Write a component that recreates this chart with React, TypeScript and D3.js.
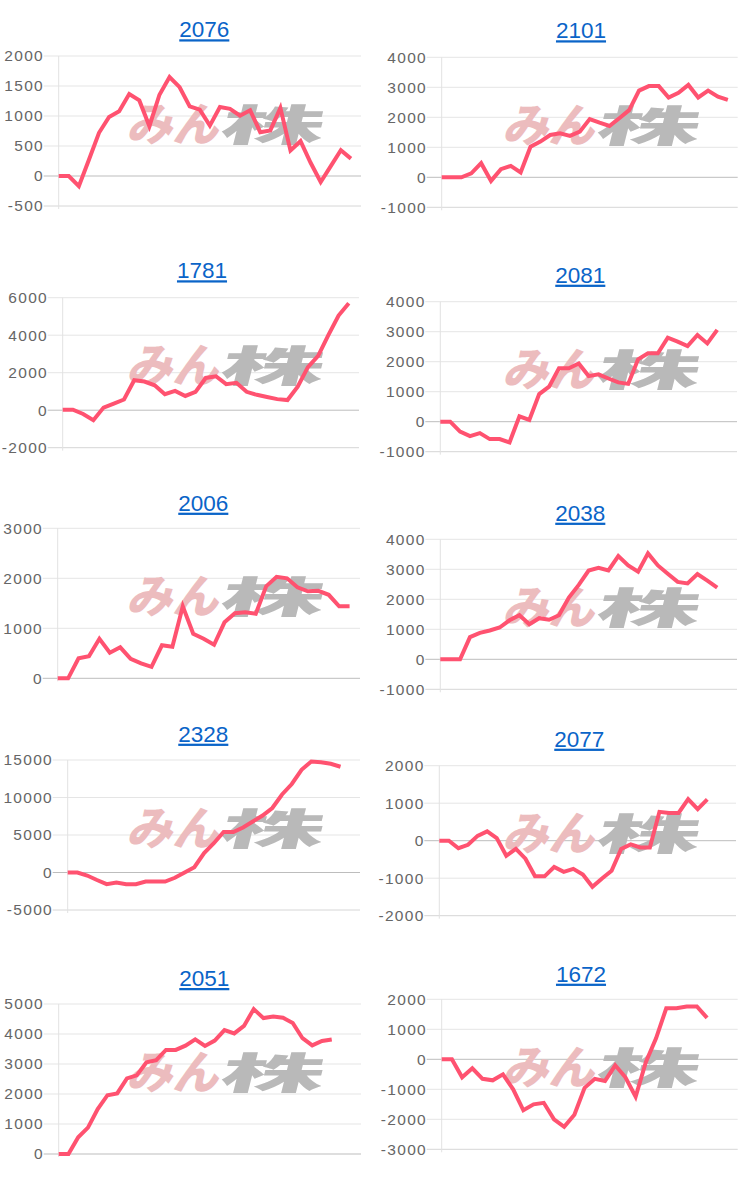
import React from "react";
import * as d3 from "d3";

const titles = ["2076", "2101", "1781", "2081", "2006", "2038", "2328", "2077", "2051", "1672"];

const v2076 = [0, 0, -170, 270, 720, 985, 1080, 1365, 1260, 830, 1355, 1650, 1480, 1160, 1105, 840, 1150, 1120, 1005, 1095, 730, 760, 1135, 425, 580, 220, -100, 165, 430, 290];
const v2101 = [0, 0, 0, 130, 470, -120, 270, 380, 160, 1020, 1190, 1410, 1470, 1380, 1520, 1940, 1820, 1710, 1970, 2240, 2890, 3040, 3040, 2660, 2820, 3080, 2660, 2890, 2690, 2580];
const v1781 = [30, 30, -200, -530, 140, 350, 570, 1600, 1530, 1330, 850, 1030, 760, 980, 1720, 1810, 1390, 1460, 980, 820, 700, 590, 540, 1250, 2300, 2900, 4000, 5050, 5700];
const v2081 = [0, 0, -330, -480, -380, -580, -580, -690, 180, 60, 920, 1170, 1780, 1780, 1940, 1520, 1580, 1440, 1310, 1260, 2080, 2280, 2280, 2800, 2670, 2520, 2890, 2610, 3060];
const v2006 = [0, 0, 400, 440, 790, 510, 620, 390, 300, 230, 660, 630, 1440, 890, 790, 670, 1120, 1300, 1320, 1290, 1840, 2030, 2000, 1820, 1740, 1750, 1670, 1440, 1440];
const v2038 = [0, 0, 0, 740, 880, 960, 1060, 1300, 1470, 1170, 1370, 1320, 1470, 2060, 2480, 2960, 3050, 2960, 3440, 3130, 2920, 3530, 3130, 2850, 2580, 2530, 2840, 2620, 2390];
const v2328 = [0, 0, -400, -1000, -1550, -1350, -1550, -1550, -1200, -1200, -1200, -700, 0, 700, 2600, 3900, 5400, 5400, 6000, 6800, 7600, 8600, 10400, 11800, 13700, 14800, 14700, 14500, 14100];
const v2077 = [0, 0, -200, -110, 130, 250, 70, -400, -220, -480, -950, -950, -700, -830, -750, -900, -1230, -1010, -800, -220, -100, -180, -180, 770, 740, 740, 1110, 840, 1100];
const v2051 = [0, 0, 560, 880, 1500, 1960, 2020, 2520, 2620, 3060, 3130, 3470, 3470, 3610, 3820, 3600, 3780, 4130, 4020, 4270, 4830, 4530, 4580, 4540, 4370, 3860, 3620, 3770, 3820];
const v1672 = [0, 0, -600, -300, -650, -700, -500, -1000, -1700, -1500, -1450, -2000, -2250, -1850, -950, -650, -720, -200, -600, -1250, -100, 700, 1700, 1700, 1760, 1760, 1380];

const seriesList = [v2076, v2101, v1781, v2081, v2006, v2038, v2328, v2077, v2051, v1672];

const yMins = [-500, -1000, -2000, -1000, 0, -1000, -5000, -2000, 0, -3000];
const yMaxs = [2000, 4000, 6000, 4000, 3000, 4000, 15000, 2000, 5000, 2000];
const ySteps = [500, 1000, 2000, 1000, 1000, 1000, 5000, 1000, 1000, 1000];
const xSlots = [30, 30, 29, 30, 29, 30, 30, 31, 31, 29];

// layout (positions only)
const layout = [
  { colX: 0, left: 58.7, right: 361, top: 56, titleX: 204.3, titleY: 37.3 },
  { colX: 376, left: 441.7, right: 737.7, top: 57.3, titleX: 581, titleY: 38.3 },
  { colX: 0, left: 62.7, right: 359, top: 297.7, titleX: 202, titleY: 278.3 },
  { colX: 376, left: 440.3, right: 737, top: 301.7, titleX: 580.3, titleY: 282.7 },
  { colX: 0, left: 57.7, right: 360, top: 528.3, titleX: 203.3, titleY: 510.7 },
  { colX: 376, left: 440.3, right: 737, top: 539.3, titleX: 580.3, titleY: 520.7 },
  { colX: 0, left: 67.7, right: 360, top: 760, titleX: 203.3, titleY: 741.7 },
  { colX: 376, left: 439.3, right: 736, top: 765.7, titleX: 579.3, titleY: 746.7 },
  { colX: 0, left: 58.7, right: 361, top: 1004, titleX: 204.3, titleY: 986 },
  { colX: 376, left: 441.7, right: 737.7, top: 999.3, titleX: 581, titleY: 981.7 },
];
const PLOT_H = 150;
const LS = 1.3;

function Panel({ i }: { i: number }) {
  const L = layout[i];
  const vals = seriesList[i];
  const x = d3.scaleLinear().domain([0, xSlots[i]]).range([L.left, L.right]);
  const y = d3.scaleLinear().domain([yMins[i], yMaxs[i]]).range([L.top + PLOT_H, L.top]);
  const ticks = d3.range(yMins[i], yMaxs[i] + ySteps[i] / 2, ySteps[i]);
  const line = d3
    .line<number>()
    .x((_, k) => x(k))
    .y((d) => y(d));
  const wmX = L.colX + 127;
  const wmY = L.top + 50.5;
  return (
    <g>
      <text
        x={L.titleX}
        y={L.titleY}
        textAnchor="middle"
        fontFamily="Arial, 'Liberation Sans', sans-serif"
        fontSize={22.5}
        fill="#0a64c8"
        style={{ textDecoration: "underline" }}
      >
        {titles[i]}
      </text>
      {ticks.map((t) => (
        <g key={t}>
          <line
            x1={L.left - 15}
            x2={L.right}
            y1={y(t)}
            y2={y(t)}
            stroke={t === 0 ? "#bdbdbd" : t === yMins[i] ? "#d6d6d6" : "#e5e5e5"}
            strokeWidth={1}
          />
          <text
            x={L.left - 16 + LS}
            y={y(t) + 5.3}
            textAnchor="end"
            fontFamily="Arial, 'Liberation Sans', sans-serif"
            fontSize={15.5}
            letterSpacing={LS}
            fill="#666666"
          >
            {t}
          </text>
        </g>
      ))}
      <line x1={L.left} x2={L.left} y1={L.top} y2={L.top + PLOT_H + 3} stroke="#e2e2e2" strokeWidth={1} />
      <g transform={`translate(${wmX - 1},${wmY + 34}) skewX(-14)`}>
        <text x={0} y={0} fontFamily="'Noto Sans CJK JP', sans-serif" fontWeight={900} fontSize={46} fill="#ecbcbe">
          みん
        </text>
      </g>
      <g transform={`translate(${wmX + 91},${wmY + 34}) skewX(-14) scale(2.4,1)`}>
        <text x={0} y={0} fontFamily="'Noto Sans CJK JP', sans-serif" fontWeight={900} fontSize={43} fill="#b9b9b9">
          株
        </text>
      </g>
      <path d={line(vals) || ""} fill="none" stroke="#ff5270" strokeWidth={4} strokeLinejoin="miter" />
    </g>
  );
}

export default function App() {
  return (
    <svg
      width={752}
      height={1183}
      style={{ position: "absolute", left: 0, top: 0, background: "#fff" }}
    >
      {titles.map((_, i) => (
        <Panel key={i} i={i} />
      ))}
    </svg>
  );
}
